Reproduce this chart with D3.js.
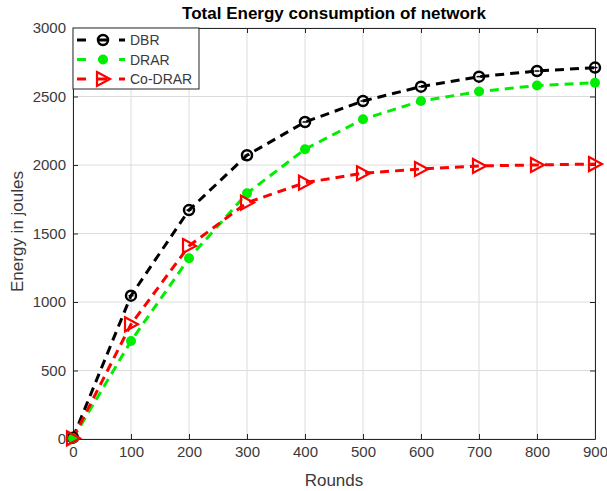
<!DOCTYPE html>
<html>
<head>
<meta charset="utf-8">
<script src="https://cdn.jsdelivr.net/npm/d3@7"></script>
<style>
  body { margin: 0; background: #fff; }
  svg { display: block; font-family: "Liberation Sans", Arial, sans-serif; }
</style>
</head>
<body>
<div id="wrapper"></div>
<script>
// data
const rounds = [0, 100, 200, 300, 400, 500, 600, 700, 800, 900];
const dbr = [10, 1046, 1671, 2071, 2314, 2467, 2572, 2645, 2686, 2711];
const drar = [5, 715, 1319, 1793, 2115, 2334, 2467, 2536, 2580, 2601];
const coDrar = [5, 837, 1409, 1725, 1871, 1940, 1971, 1993, 2000, 2007];
const xTicks = [0, 100, 200, 300, 400, 500, 600, 700, 800, 900];
const yTicks = [0, 500, 1000, 1500, 2000, 2500, 3000];

const series = [
  { name: "DBR", values: dbr, color: "#000000", marker: "circle" },
  { name: "DRAR", values: drar, color: "#00ee00", marker: "dot" },
  { name: "Co-DRAR", values: coDrar, color: "#ff0000", marker: "triangle" }
];

// dimensions
const width = 607, height = 491;
const margin = { top: 28, right: 12, bottom: 52, left: 73 };
const bw = width - margin.left - margin.right;
const bh = height - margin.top - margin.bottom;

const svg = d3.select("#wrapper").append("svg")
  .attr("width", width).attr("height", height);

const bounds = svg.append("g")
  .attr("transform", `translate(${margin.left},${margin.top})`);

// scales
const xScale = d3.scaleLinear().domain([0, 900]).range([0, bw]);
const yScale = d3.scaleLinear().domain([0, 3000]).range([bh, 0]);

// grid
bounds.append("g").selectAll("line").data(xTicks).join("line")
  .attr("x1", d => xScale(d)).attr("x2", d => xScale(d))
  .attr("y1", 0).attr("y2", bh)
  .attr("stroke", "#dcdcdc").attr("stroke-width", 1);
bounds.append("g").selectAll("line").data(yTicks).join("line")
  .attr("y1", d => yScale(d)).attr("y2", d => yScale(d))
  .attr("x1", 0).attr("x2", bw)
  .attr("stroke", "#dcdcdc").attr("stroke-width", 1);

// axes (ticks inward, box on)
const axisColor = "#262626";
const fmt = d3.format("d");
const styleAxis = g => {
  g.select(".domain").attr("stroke", axisColor);
  g.selectAll(".tick line").attr("stroke", axisColor);
  g.selectAll(".tick text").attr("fill", "#3a3a3a")
    .style("font-size", "15px").style("font-family", "Liberation Sans, Arial, sans-serif");
};

bounds.append("g").attr("transform", `translate(0,${bh})`)
  .call(d3.axisBottom(xScale).tickValues(xTicks).tickFormat(fmt).tickSizeInner(-5).tickSizeOuter(0).tickPadding(7))
  .call(styleAxis);
bounds.append("g")
  .call(d3.axisLeft(yScale).tickValues(yTicks).tickFormat(fmt).tickSizeInner(-5).tickSizeOuter(0).tickPadding(7))
  .call(styleAxis);
bounds.append("g")
  .call(d3.axisTop(xScale).tickValues(xTicks).tickSizeInner(-5).tickSizeOuter(0).tickFormat(""))
  .call(styleAxis);
bounds.append("g").attr("transform", `translate(${bw},0)`)
  .call(d3.axisRight(yScale).tickValues(yTicks).tickSizeInner(-5).tickSizeOuter(0).tickFormat(""))
  .call(styleAxis);

// labels
svg.append("text")
  .attr("x", 334).attr("y", 19)
  .attr("text-anchor", "middle")
  .style("font-size", "17px").style("font-weight", "bold").attr("fill", "#000")
  .text("Total Energy consumption of network");

svg.append("text")
  .attr("x", margin.left + bw / 2).attr("y", height - 5)
  .attr("text-anchor", "middle")
  .style("font-size", "17px").attr("fill", "#3a3a3a")
  .text("Rounds");

svg.append("text")
  .attr("transform", `translate(23,${margin.top + bh / 2 - 2}) rotate(-90)`)
  .attr("text-anchor", "middle")
  .style("font-size", "17px").attr("fill", "#3a3a3a")
  .text("Energy in joules");

// markers
const drawMarker = (sel, type, color) => {
  if (type === "circle") {
    sel.append("circle").attr("r", 5)
      .attr("fill", "none").attr("stroke", color).attr("stroke-width", 2.5);
    sel.append("line").attr("x1", -2.5).attr("x2", 2.5)
      .attr("stroke", color).attr("stroke-width", 1.5);
  } else if (type === "dot") {
    sel.append("circle").attr("r", 5).attr("fill", color);
  } else {
    sel.append("path").attr("d", "M-6,-7L7,0L-6,7Z")
      .attr("fill", "none").attr("stroke", color).attr("stroke-width", 2.2)
      .attr("stroke-linejoin", "miter");
  }
};

// lines
const lineGen = d3.line()
  .x((d, i) => xScale(rounds[i]))
  .y(d => yScale(d));

series.forEach(s => {
  bounds.append("path")
    .datum(s.values)
    .attr("d", lineGen)
    .attr("fill", "none")
    .attr("stroke", s.color)
    .attr("stroke-width", 3)
    .attr("stroke-dasharray", "9,6");
});

series.forEach(s => {
  bounds.append("g").selectAll("g").data(s.values).join("g")
    .attr("transform", (d, i) => `translate(${xScale(rounds[i])},${yScale(d)})`)
    .each(function () { drawMarker(d3.select(this), s.marker, s.color); });
});

// legend
const legend = bounds.append("g");
legend.append("rect")
  .attr("x", 0).attr("y", 0).attr("width", 126).attr("height", 61)
  .attr("fill", "#fff").attr("stroke", axisColor).attr("stroke-width", 1);

series.forEach((s, i) => {
  const y = 12 + i * 19.5;
  const row = legend.append("g");
  row.append("line").attr("x1", 4).attr("x2", 52).attr("y1", y).attr("y2", y)
    .attr("stroke", s.color).attr("stroke-width", 3).attr("stroke-dasharray", "9,12");
  const m = row.append("g").attr("transform", `translate(30,${y})`);
  drawMarker(m, s.marker, s.color);
  row.append("text").attr("x", 57).attr("y", y + 5)
    .style("font-size", "14px").attr("fill", "#3a3a3a")
    .text(s.name);
});
</script>
</body>
</html>
